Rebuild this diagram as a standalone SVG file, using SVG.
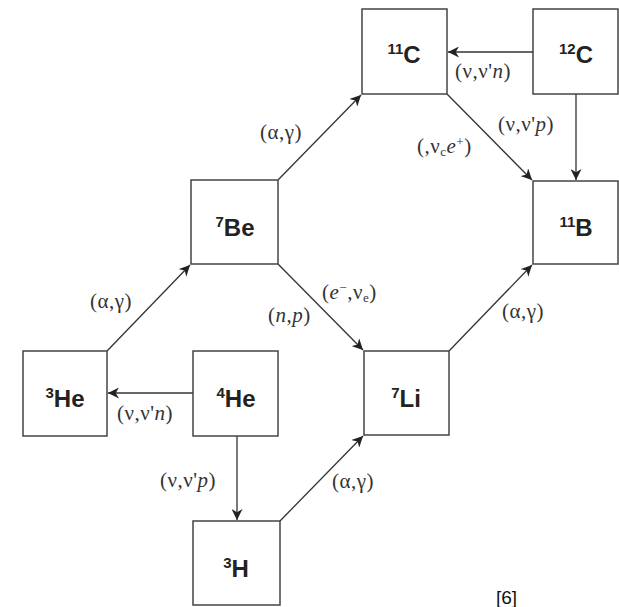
<svg xmlns="http://www.w3.org/2000/svg" width="619" height="607" viewBox="0 0 619 607">
<defs>
<marker id="ah" viewBox="0 0 10 10" refX="10" refY="5" markerWidth="11" markerHeight="11" markerUnits="userSpaceOnUse" orient="auto">
<path d="M0,0 L10,5 L0,10 L3,5 Z" fill="#222"/>
</marker>
<style>
.box{fill:#fff;stroke:#444;stroke-width:1.5}
.nl{font-family:"Liberation Sans",Arial,sans-serif;font-weight:bold;font-size:24px;fill:#222;text-anchor:middle}
.sup{font-size:15px}
.rl{font-family:"Liberation Serif","Times New Roman",serif;font-size:21px;fill:#333;letter-spacing:0.5px}
.it{font-style:italic}
.sub{font-size:13px}
.cn{stroke:#333;stroke-width:1.3;fill:none;marker-end:url(#ah)}
</style>
</defs>
<rect width="619" height="607" fill="#fff"/>
<g id="connectors">
<line class="cn" x1="533" y1="52" x2="448" y2="52"/>
<line class="cn" x1="576" y1="94" x2="576" y2="180"/>
<line class="cn" x1="447" y1="94" x2="532" y2="180"/>
<line class="cn" x1="278" y1="180" x2="361" y2="95"/>
<line class="cn" x1="278" y1="264" x2="363" y2="350"/>
<line class="cn" x1="107" y1="351" x2="190" y2="265"/>
<line class="cn" x1="193" y1="393" x2="108" y2="393"/>
<line class="cn" x1="237" y1="436" x2="237" y2="520"/>
<line class="cn" x1="280" y1="521" x2="363" y2="436"/>
<line class="cn" x1="449" y1="351" x2="532" y2="265"/>
</g>
<g id="labels">
<text class="rl" x="455" y="78">(ν,ν'<tspan class="it">n</tspan>)</text>
<text class="rl" x="260" y="139">(α,γ)</text>
<text class="rl" x="417" y="153">(,ν<tspan class="sub" dy="3">c</tspan><tspan class="it" dy="-3">e</tspan><tspan class="sub" dy="-7">+</tspan><tspan dy="7">)</tspan></text>
<text class="rl" x="498" y="131">(ν,ν'<tspan class="it">p</tspan>)</text>
<text class="rl" x="322" y="299">(<tspan class="it">e</tspan><tspan class="sub" dy="-7">−</tspan><tspan dy="7">,ν</tspan><tspan class="sub" dy="3">e</tspan><tspan dy="-3">)</tspan></text>
<text class="rl" x="268" y="322">(<tspan class="it">n</tspan>,<tspan class="it">p</tspan>)</text>
<text class="rl" x="90" y="308">(α,γ)</text>
<text class="rl" x="117" y="420">(ν,ν'<tspan class="it">n</tspan>)</text>
<text class="rl" x="160" y="487">(ν,ν'<tspan class="it">p</tspan>)</text>
<text class="rl" x="332" y="488">(α,γ)</text>
<text class="rl" x="502" y="318">(α,γ)</text>
</g>
<g id="n11C"><rect class="box" x="362" y="9" width="85" height="85"/><text class="nl" x="404" y="63"><tspan class="sup" dy="-9">11</tspan><tspan dy="9">C</tspan></text></g>
<g id="n12C"><rect class="box" x="533" y="9" width="85" height="85"/><text class="nl" x="576" y="63"><tspan class="sup" dy="-9">12</tspan><tspan dy="9">C</tspan></text></g>
<g id="n7Be"><rect class="box" x="191" y="180" width="87" height="84"/><text class="nl" x="235" y="236"><tspan class="sup" dy="-9">7</tspan><tspan dy="9">Be</tspan></text></g>
<g id="n11B"><rect class="box" x="533" y="181" width="85" height="83"/><text class="nl" x="576" y="236"><tspan class="sup" dy="-9">11</tspan><tspan dy="9">B</tspan></text></g>
<g id="n3He"><rect class="box" x="23" y="351" width="84" height="85"/><text class="nl" x="65" y="407"><tspan class="sup" dy="-9">3</tspan><tspan dy="9">He</tspan></text></g>
<g id="n4He"><rect class="box" x="193" y="351" width="85" height="85"/><text class="nl" x="236" y="407"><tspan class="sup" dy="-9">4</tspan><tspan dy="9">He</tspan></text></g>
<g id="n7Li"><rect class="box" x="364" y="351" width="85" height="84"/><text class="nl" x="406" y="407"><tspan class="sup" dy="-9">7</tspan><tspan dy="9">Li</tspan></text></g>
<g id="n3H"><rect class="box" x="193" y="521" width="87" height="84"/><text class="nl" x="236" y="577"><tspan class="sup" dy="-9">3</tspan><tspan dy="9">H</tspan></text></g>
<text x="496" y="604" font-family="'Liberation Sans',Arial,sans-serif" font-size="19" fill="#111">[6]</text>
</svg>
